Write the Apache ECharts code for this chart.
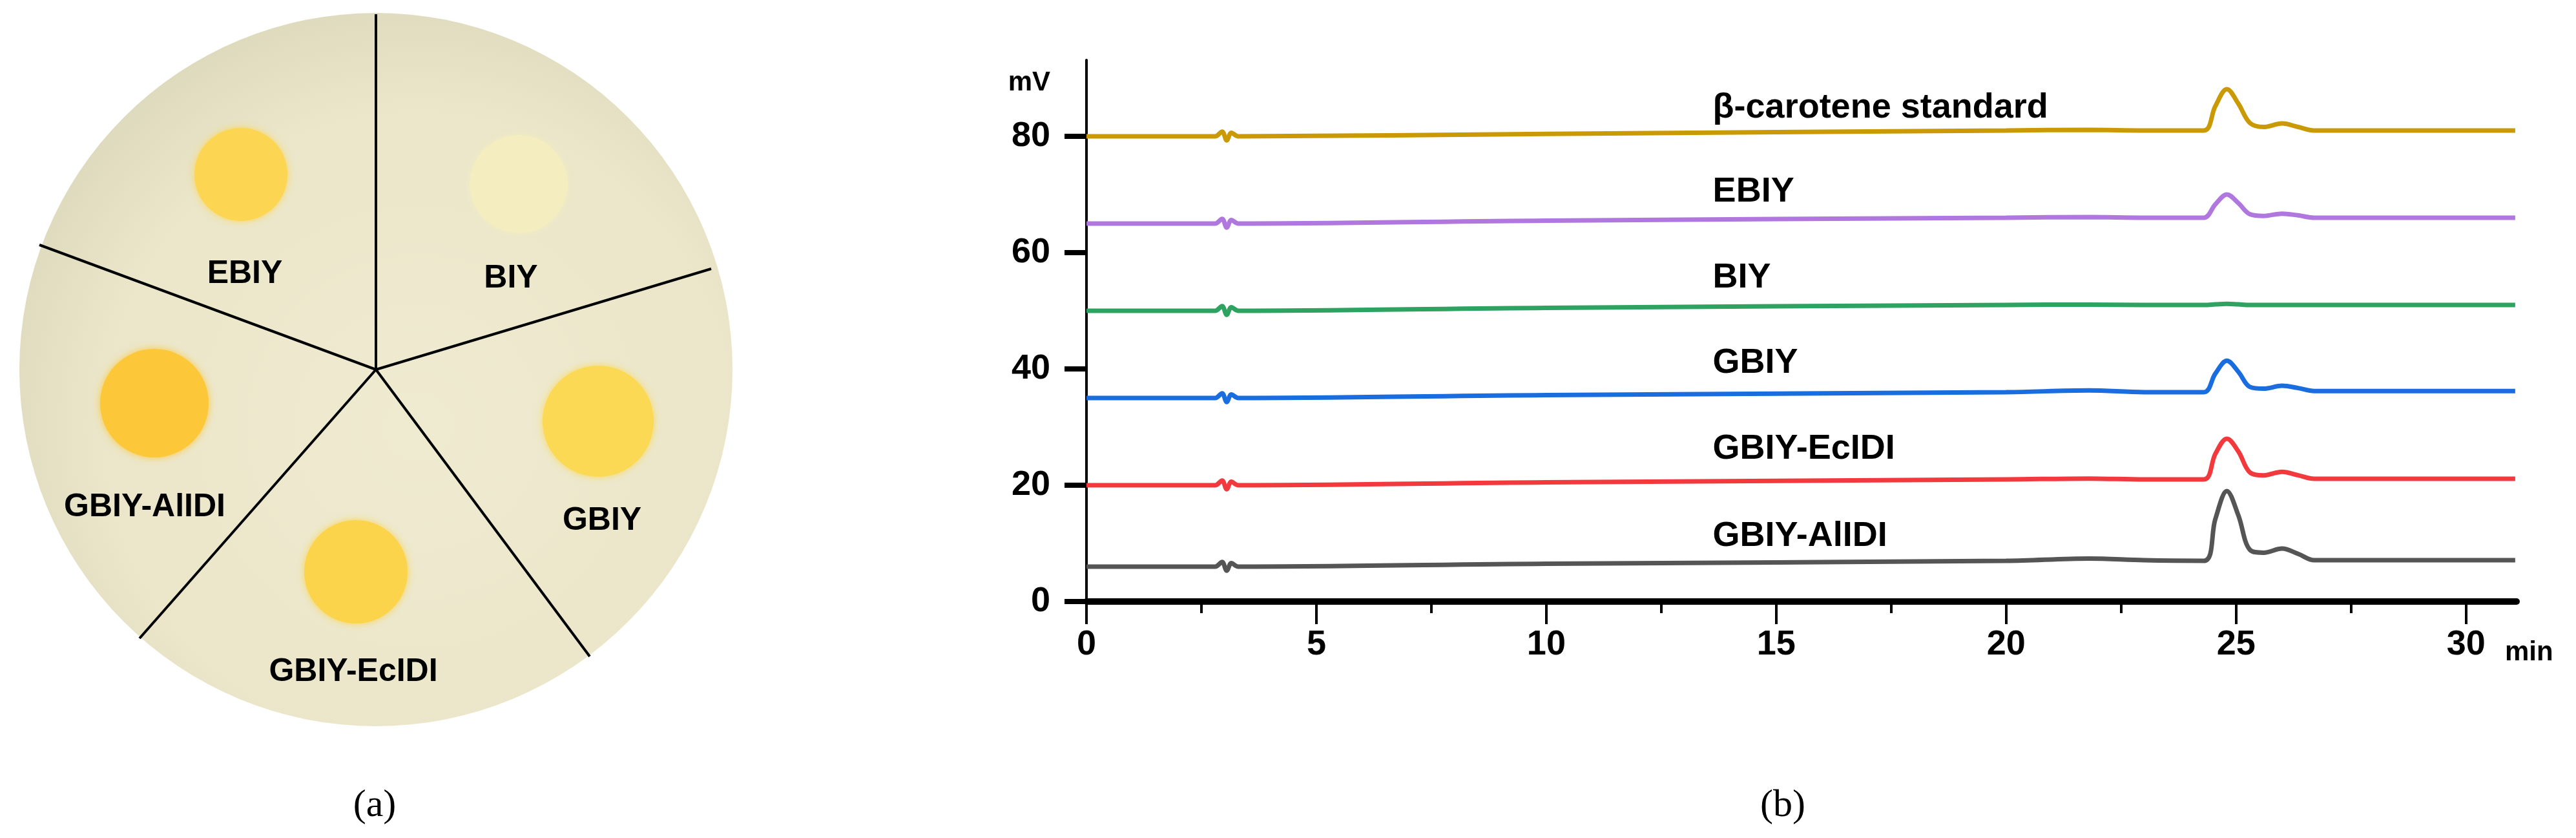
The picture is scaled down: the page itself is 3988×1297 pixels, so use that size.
<!DOCTYPE html>
<html>
<head>
<meta charset="utf-8">
<script src="https://cdn.jsdelivr.net/npm/echarts@6/dist/echarts.min.js"></script>
<style>
html, body { margin: 0; padding: 0; background: #fff; }
#main { width: 3988px; height: 1297px; }
</style>
</head>
<body>
<div id="main"></div>
<script>
// retention time sample points (min)
var times = [0, 2.8, 2.95, 3.05, 3.15, 3.3, 10, 20, 21.8, 23, 24.3, 24.55, 24.8, 25.05, 25.3, 25.6, 26.0, 26.35, 26.7, 31.07];

// detector signal (mV) for each trace, offset as in the figure
var standard = [80, 80, 80.8, 79.3, 80.6, 80, 80.4, 81, 81.1, 81, 81, 85.2, 88.1, 85.6, 82.3, 81.6, 82.2, 81.6, 81, 81];
var ebiy = [65, 65, 65.8, 64.3, 65.6, 65, 65.5, 66, 66.1, 66, 66, 68.3, 70, 68.5, 66.6, 66.3, 66.7, 66.4, 66, 66];
var biy = [50, 50, 50.8, 49.3, 50.6, 50, 50.5, 51, 51.05, 51, 51, 51.1, 51.2, 51.1, 51, 51, 51, 51, 51, 51];
var gbiy = [35, 35, 35.8, 34.3, 35.6, 35, 35.5, 36, 36.3, 36, 36, 39.2, 41.4, 39.5, 36.9, 36.6, 37.1, 36.7, 36.2, 36.2];
var ecidi = [20, 20, 20.8, 19.3, 20.6, 20, 20.5, 21, 21.15, 21, 21, 25.4, 28, 25.8, 22.2, 21.7, 22.3, 21.7, 21.1, 21.1];
var alidi = [6, 6, 6.8, 5.3, 6.6, 6, 6.5, 7, 7.4, 7.1, 7, 14.2, 19, 14.8, 8.9, 8.4, 9.1, 8.2, 7.1, 7.1];

var traceNames = ['β-carotene standard', 'EBIY', 'BIY', 'GBIY', 'GBIY-EcIDI', 'GBIY-AlIDI'];
var traceValues = [standard, ebiy, biy, gbiy, ecidi, alidi];
var traceColors = ['#c99a06', '#b077de', '#2ea361', '#1a6ddf', '#f23a3e', '#555555'];
var labelX = 13.55;
var labelY = [84.9, 70.4, 55.6, 41, 26.2, 11.2];

var xTicks = [0, 5, 10, 15, 20, 25, 30];
var yTicks = [0, 20, 40, 60, 80];

var narrow = '"Liberation Sans Narrow", "Arial Narrow", "Liberation Sans", Arial, sans-serif';
var plateFont = '"Liberation Sans", Arial, sans-serif';

var myChart = echarts.init(document.getElementById('main'));

var series = traceNames.map(function (name, i) {
    return {
        name: name,
        type: 'line',
        smooth: 0.35,
        symbol: 'none',
        lineStyle: { color: traceColors[i], width: 7 },
        data: times.map(function (t, j) { return [t, traceValues[i][j]]; }),
        markPoint: {
            symbol: 'circle',
            symbolSize: 0,
            silent: true,
            label: {
                show: true,
                position: 'right',
                formatter: name,
                color: '#000',
                fontFamily: narrow,
                fontWeight: 'bold',
                fontSize: 54
            },
            data: [{ coord: [labelX, labelY[i]] }]
        }
    };
});

// the plate photo of panel (a), sketched with shapes
var cx = 582, cy = 572, r = 552;
var graphics = [
    {
        type: 'circle', shape: { cx: cx, cy: cy, r: r },
        style: {
            fill: new echarts.graphic.RadialGradient(0.56, 0.58, 0.6, [
                { offset: 0, color: '#efebd1' },
                { offset: 0.75, color: '#ebe6c9' },
                { offset: 1, color: '#dedabd' }
            ])
        }
    }
];
[[582, 22], [1101, 416], [913, 1016], [216, 988], [61, 379]].forEach(function (p) {
    graphics.push({ type: 'line', shape: { x1: cx, y1: cy, x2: p[0], y2: p[1] }, style: { stroke: '#000', lineWidth: 4 } });
});
[[373, 270, 72, '#fcd652'], [803, 285, 76, '#f3edc0'], [239, 624, 84, '#fcc83a'], [926, 652, 86, '#fbd955'], [551, 885, 80, '#fbd44c']].forEach(function (c) {
    graphics.push({
        type: 'circle', shape: { cx: c[0], cy: c[1], r: c[2] },
        style: { fill: c[3], shadowBlur: 12, shadowColor: c[3] }
    });
});
[['EBIY', 379, 424], ['BIY', 791, 431], ['GBIY-AlIDI', 224, 785], ['GBIY', 932, 806], ['GBIY-EcIDI', 547, 1040]].forEach(function (t) {
    graphics.push({
        type: 'text', x: t[1], y: t[2],
        style: { text: t[0], fill: '#000', font: 'bold 50px ' + plateFont, align: 'center', verticalAlign: 'middle' }
    });
});
graphics.push(
    { type: 'text', x: 580, y: 1247, style: { text: '(a)', fill: '#000', font: '60px "Liberation Serif", serif', align: 'center', verticalAlign: 'middle' } },
    { type: 'text', x: 2760, y: 1247, style: { text: '(b)', fill: '#000', font: '60px "Liberation Serif", serif', align: 'center', verticalAlign: 'middle' } },
    { type: 'text', x: 1626, y: 128, style: { text: 'mV', fill: '#000', font: 'bold 42px ' + narrow, align: 'right', verticalAlign: 'middle' } },
    { type: 'text', x: 3878, y: 1010, style: { text: 'min', fill: '#000', font: 'bold 42px ' + narrow, align: 'left', verticalAlign: 'middle' } }
);

var option = {
    animation: false,
    backgroundColor: '#fff',
    grid: { left: 1682, right: 92, top: 93, bottom: 366 },
    xAxis: {
        type: 'value',
        min: 0,
        max: 31.1,
        interval: 5,
        axisLine: { show: true, onZero: false, lineStyle: { color: '#000', width: 10 } },
        axisTick: { show: true, length: 35, lineStyle: { color: '#000', width: 4 }, customValues: xTicks },
        minorTick: { show: true, splitNumber: 2, length: 18, lineStyle: { color: '#000', width: 4 } },
        splitLine: { show: false },
        axisLabel: {
            customValues: xTicks,
            margin: 40,
            color: '#000',
            fontFamily: narrow,
            fontWeight: 'bold',
            fontSize: 54
        }
    },
    yAxis: {
        type: 'value',
        min: 0,
        max: 93.1,
        interval: 20,
        axisLine: { show: true, onZero: false, lineStyle: { color: '#000', width: 4 } },
        axisTick: { show: true, length: 34, lineStyle: { color: '#000', width: 8 }, customValues: yTicks },
        splitLine: { show: false },
        axisLabel: {
            customValues: yTicks,
            margin: 56,
            color: '#000',
            fontFamily: narrow,
            fontWeight: 'bold',
            fontSize: 54
        }
    },
    graphic: graphics,
    series: series
};

myChart.setOption(option);
</script>
</body>
</html>
